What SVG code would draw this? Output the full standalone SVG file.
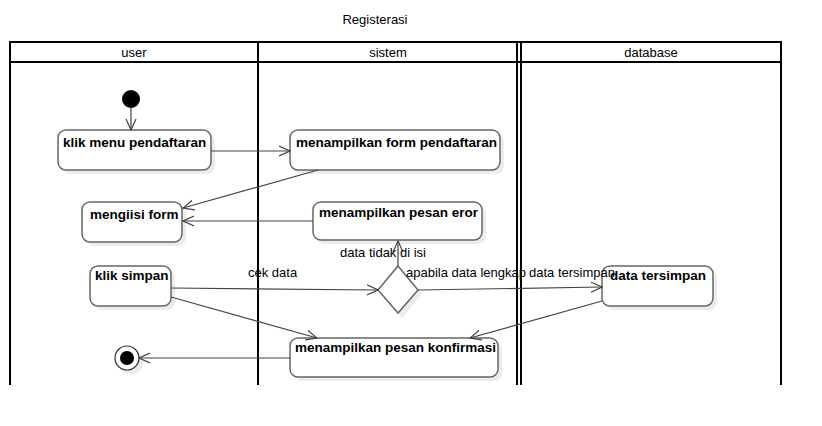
<svg xmlns="http://www.w3.org/2000/svg" width="822" height="426" viewBox="0 0 822 426">
<defs>
<style>
.lane{stroke:#000;stroke-width:2;fill:none}
.hdr{font-family:"Liberation Sans",Arial,sans-serif;font-size:13px;fill:#000;text-anchor:middle}
.box{fill:#fff;stroke:#666;stroke-width:1.5}
.shadow{fill:#ececec;stroke:none}
.nt{font-family:"Liberation Sans",Arial,sans-serif;font-size:13.5px;font-weight:bold;fill:#000}
.edge{stroke:#444;stroke-width:1.2;fill:none;marker-end:url(#open)}
.lbl{font-family:"Liberation Sans",Arial,sans-serif;font-size:13px;fill:#000}
</style>
<marker id="open" viewBox="0 0 12 12" refX="11" refY="6" markerWidth="12" markerHeight="12" markerUnits="userSpaceOnUse" orient="auto">
<path d="M0,1 L11,6 L0,11" fill="none" stroke="#444" stroke-width="1.2"/>
</marker>
</defs>
<rect width="822" height="426" fill="#fff"/>
<text x="375" y="24" class="lbl" text-anchor="middle">Registerasi</text>
<g id="swimlanes">
<line x1="10" y1="42" x2="781" y2="42" class="lane"/>
<line x1="10" y1="62" x2="781" y2="62" class="lane"/>
<line x1="10" y1="41" x2="10" y2="385" class="lane"/>
<line x1="258" y1="41" x2="258" y2="385" class="lane"/>
<line x1="517" y1="41" x2="517" y2="385" class="lane"/>
<line x1="521" y1="41" x2="521" y2="385" class="lane"/>
<line x1="781" y1="41" x2="781" y2="385" class="lane"/>
<text x="134" y="57" class="hdr">user</text>
<text x="388" y="57" class="hdr">sistem</text>
<text x="651" y="57" class="hdr">database</text>
</g>
<g id="start">
<circle cx="131" cy="99" r="9" fill="#000"/>
</g>
<g id="n-klik-menu">
<rect x="62" y="134" width="153" height="40" rx="8" class="shadow"/>
<rect x="58" y="130" width="153" height="40" rx="8" class="box"/>
<text x="63" y="147" class="nt">klik menu pendaftaran</text>
</g>
<g id="n-form">
<rect x="294" y="134" width="210" height="40" rx="8" class="shadow"/>
<rect x="290" y="130" width="210" height="40" rx="8" class="box"/>
<text x="296" y="147" class="nt">menampilkan form pendaftaran</text>
</g>
<g id="n-mengisi">
<rect x="86" y="206" width="100" height="40" rx="8" class="shadow"/>
<rect x="82" y="202" width="100" height="40" rx="8" class="box"/>
<text x="90" y="219" class="nt">mengiisi form</text>
</g>
<g id="n-eror">
<rect x="317" y="206" width="169" height="38" rx="8" class="shadow"/>
<rect x="313" y="202" width="169" height="38" rx="8" class="box"/>
<text x="319" y="217" class="nt">menampilkan pesan eror</text>
</g>
<g id="n-klik-simpan">
<rect x="94" y="270" width="81" height="40" rx="8" class="shadow"/>
<rect x="90" y="266" width="81" height="40" rx="8" class="box"/>
<text x="95" y="280" class="nt">klik simpan</text>
</g>
<g id="n-decision">
<polygon points="402,270 422,294 402,318 382,294" class="shadow"/>
<polygon points="398,266 418,290 398,313 378,290" class="box"/>
</g>
<g id="n-tersimpan">
<rect x="606" y="270" width="111" height="40" rx="8" class="shadow"/>
<rect x="602" y="266" width="111" height="40" rx="8" class="box"/>
<text x="610" y="280" class="nt">data tersimpan</text>
</g>
<g id="n-konfirmasi">
<rect x="294" y="342" width="208" height="39" rx="8" class="shadow"/>
<rect x="290" y="338" width="208" height="39" rx="8" class="box"/>
<text x="295" y="352" class="nt">menampilkan pesan konfirmasi</text>
</g>
<g id="end">
<circle cx="131" cy="362" r="12" class="shadow"/>
<circle cx="127" cy="358" r="12" fill="#fff" stroke="#333" stroke-width="1.2"/>
<circle cx="127" cy="358" r="7" fill="#000"/>
</g>
<g id="connectors">
<line x1="131" y1="108" x2="131" y2="130" class="edge"/>
<line x1="211" y1="151" x2="290" y2="151" class="edge"/>
<line x1="318" y1="170" x2="183" y2="208" class="edge"/>
<line x1="313" y1="221" x2="183" y2="221" class="edge"/>
<line x1="398" y1="266" x2="398" y2="241" class="edge"/>
<line x1="171" y1="288" x2="378" y2="290" class="edge"/>
<line x1="171" y1="297" x2="317" y2="338" class="edge"/>
<line x1="418" y1="290" x2="602" y2="287" class="edge"/>
<line x1="602" y1="301" x2="470" y2="338" class="edge"/>
<line x1="290" y1="358" x2="139" y2="358" class="edge"/>
<text x="340" y="257" class="lbl">data tidak di isi</text>
<text x="248" y="277" class="lbl">cek data</text>
<text x="406" y="277" class="lbl">apabila data lengkap</text>
<text x="529" y="277" class="lbl">data tersimpan</text>
</g>
</svg>
